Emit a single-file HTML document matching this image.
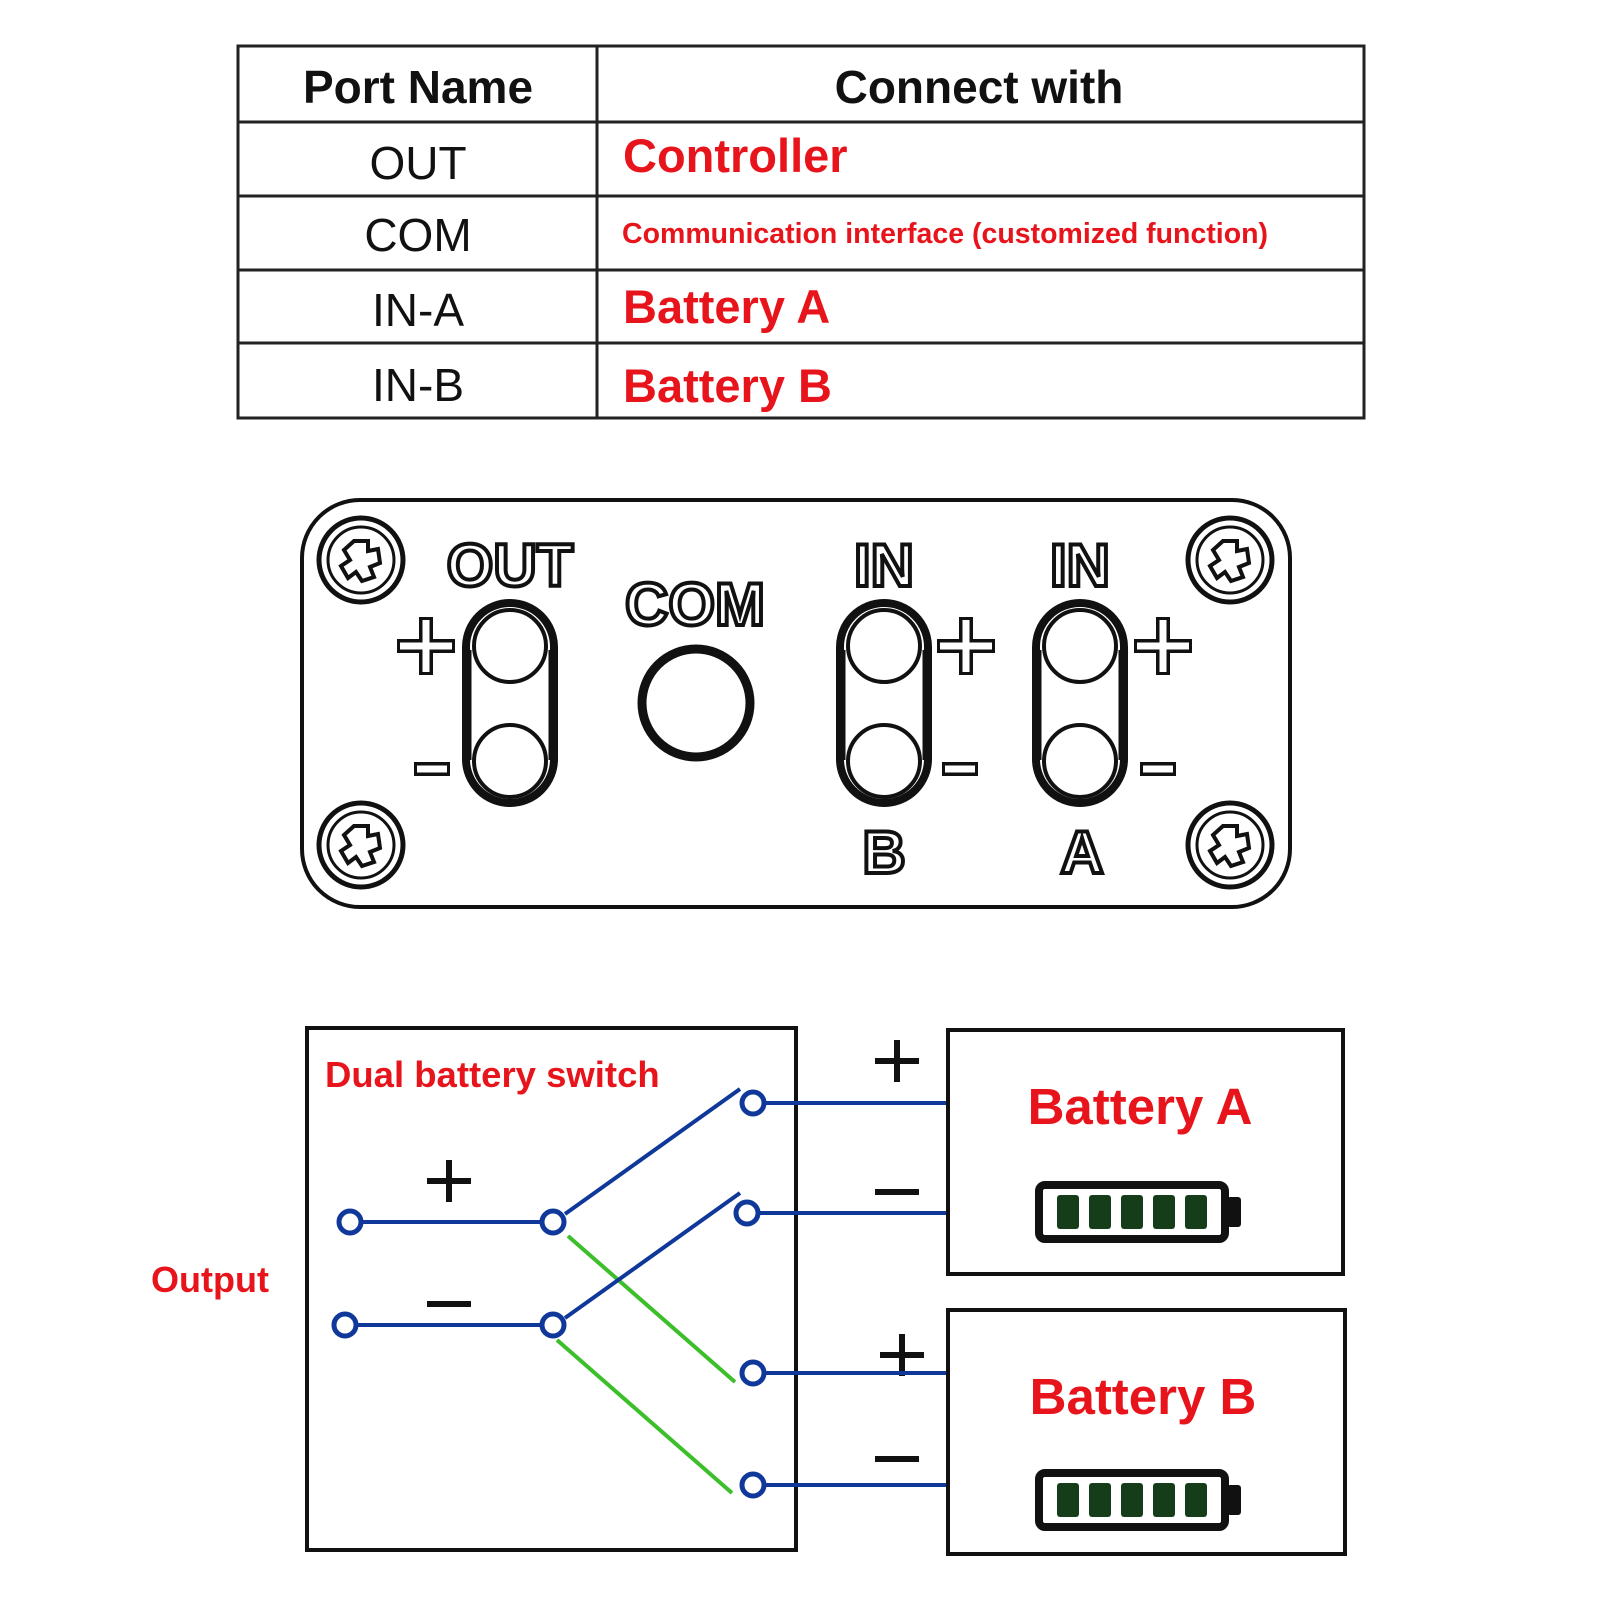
<!DOCTYPE html>
<html><head><meta charset="utf-8"><style>html,body{margin:0;padding:0;background:#fff}svg{display:block}</style></head><body>
<svg width="1601" height="1601" viewBox="0 0 1601 1601" xmlns="http://www.w3.org/2000/svg" font-family="Liberation Sans, sans-serif">
<rect width="1601" height="1601" fill="#fff"/>
<g stroke="#222" stroke-width="3" fill="none">
<rect x="238" y="46" width="1126" height="372"/>
<line x1="597" y1="46" x2="597" y2="418"/>
<line x1="238" y1="122" x2="1364" y2="122"/>
<line x1="238" y1="196" x2="1364" y2="196"/>
<line x1="238" y1="270" x2="1364" y2="270"/>
<line x1="238" y1="343" x2="1364" y2="343"/>
</g>
<g font-size="46" text-anchor="middle" fill="#111">
<text x="418" y="103" font-weight="bold">Port Name</text>
<text x="979" y="103" font-weight="bold">Connect with</text>
<text x="418" y="179">OUT</text>
<text x="418" y="251">COM</text>
<text x="418" y="326">IN-A</text>
<text x="418" y="401">IN-B</text>
</g>
<g fill="#e8141c" font-weight="bold">
<text x="623" y="172" font-size="47">Controller</text>
<text x="622" y="243" font-size="28.5">Communication interface (customized function)</text>
<text x="623" y="323" font-size="47">Battery A</text>
<text x="623" y="402" font-size="47">Battery B</text>
</g>
<rect x="302" y="500" width="988" height="407" rx="58" fill="none" stroke="#111" stroke-width="4"/>
<g fill="none" stroke="#111">
<g transform="translate(361,560)"><circle r="42" stroke-width="5"/><circle r="33" stroke-width="3"/><path d="M-7,-19 L7,-19 L7,-9 L17,-11 L19,3 L9,7 L13,17 L1,21 L-5,12 L-13,18 L-20,6 L-11,0 L-17,-10 Z" stroke-width="4"/></g>
<g transform="translate(1230,560)"><circle r="42" stroke-width="5"/><circle r="33" stroke-width="3"/><path d="M-7,-19 L7,-19 L7,-9 L17,-11 L19,3 L9,7 L13,17 L1,21 L-5,12 L-13,18 L-20,6 L-11,0 L-17,-10 Z" stroke-width="4"/></g>
<g transform="translate(361,845)"><circle r="42" stroke-width="5"/><circle r="33" stroke-width="3"/><path d="M-7,-19 L7,-19 L7,-9 L17,-11 L19,3 L9,7 L13,17 L1,21 L-5,12 L-13,18 L-20,6 L-11,0 L-17,-10 Z" stroke-width="4"/></g>
<g transform="translate(1230,845)"><circle r="42" stroke-width="5"/><circle r="33" stroke-width="3"/><path d="M-7,-19 L7,-19 L7,-9 L17,-11 L19,3 L9,7 L13,17 L1,21 L-5,12 L-13,18 L-20,6 L-11,0 L-17,-10 Z" stroke-width="4"/></g>
</g>
<g fill="none" stroke="#111">
<g transform="translate(510,0)"><rect x="-44" y="603" width="88" height="200" rx="44" stroke-width="8"/><line x1="-40" y1="650" x2="-40" y2="760" stroke-width="3"/><line x1="40" y1="650" x2="40" y2="760" stroke-width="3"/><circle cy="646" r="36" stroke-width="4"/><circle cy="761" r="36" stroke-width="4"/></g>
<g transform="translate(884,0)"><rect x="-44" y="603" width="88" height="200" rx="44" stroke-width="8"/><line x1="-40" y1="650" x2="-40" y2="760" stroke-width="3"/><line x1="40" y1="650" x2="40" y2="760" stroke-width="3"/><circle cy="646" r="36" stroke-width="4"/><circle cy="761" r="36" stroke-width="4"/></g>
<g transform="translate(1080,0)"><rect x="-44" y="603" width="88" height="200" rx="44" stroke-width="8"/><line x1="-40" y1="650" x2="-40" y2="760" stroke-width="3"/><line x1="40" y1="650" x2="40" y2="760" stroke-width="3"/><circle cy="646" r="36" stroke-width="4"/><circle cy="761" r="36" stroke-width="4"/></g>
<circle cx="696" cy="703" r="54" stroke-width="9"/>
</g>
<g fill="none">
<g stroke="#111" stroke-width="14"><path d="M397,646 H455 M426,617 V675 M937,646 H995 M966,617 V675 M1134,646 H1192 M1163,617 V675 M414,769 H450 M942,769 H978 M1140,769 H1176"/></g>
<g stroke="#fff" stroke-width="7"><path d="M400,646 H452 M426,620 V672 M940,646 H992 M966,620 V672 M1137,646 H1189 M1163,620 V672 M417,769 H447 M945,769 H975 M1143,769 H1173"/></g>
</g>
<g font-weight="bold" text-anchor="middle" fill="#fff" stroke="#111" stroke-width="4" font-size="60">
<text x="510" y="586">OUT</text>
<text x="695" y="625">COM</text>
<text x="884" y="586">IN</text>
<text x="1080" y="586">IN</text>
<text x="884" y="873">B</text>
<text x="1082" y="873">A</text>
</g>
<rect x="307" y="1028" width="489" height="522" fill="none" stroke="#111" stroke-width="4"/>
<text x="325" y="1087" font-size="36.5" font-weight="bold" fill="#e8141c">Dual battery switch</text>
<text x="151" y="1292" font-size="36" font-weight="bold" fill="#e8141c">Output</text>
<g stroke="#111" stroke-width="6"><path d="M427,1181 H471 M449,1160 V1202 M427,1304 H471 M875,1061 H919 M897,1040 V1082 M875,1192 H919 M880,1355 H924 M902,1334 V1376 M875,1459 H919"/></g>
<g stroke="#3cbf2a" stroke-width="4"><line x1="568" y1="1236" x2="735" y2="1382"/><line x1="557" y1="1340" x2="732" y2="1493"/></g>
<g stroke="#10389a" stroke-width="4" fill="#fff">
<line x1="350" y1="1222" x2="553" y2="1222"/>
<line x1="345" y1="1325" x2="553" y2="1325"/>
<line x1="565" y1="1214" x2="740" y2="1089"/>
<line x1="565" y1="1318" x2="740" y2="1193"/>
<line x1="753" y1="1103" x2="948" y2="1103"/>
<line x1="747" y1="1213" x2="948" y2="1213"/>
<line x1="753" y1="1373" x2="948" y2="1373"/>
<line x1="753" y1="1485" x2="948" y2="1485"/>
<g stroke-width="5"><circle cx="350" cy="1222" r="11"/><circle cx="553" cy="1222" r="11"/><circle cx="345" cy="1325" r="11"/><circle cx="553" cy="1325" r="11"/><circle cx="753" cy="1103" r="11"/><circle cx="747" cy="1213" r="11"/><circle cx="753" cy="1373" r="11"/><circle cx="753" cy="1485" r="11"/></g>
</g>
<rect x="948" y="1030" width="395" height="244" fill="none" stroke="#111" stroke-width="4"/>
<rect x="948" y="1310" width="397" height="244" fill="none" stroke="#111" stroke-width="4"/>
<g font-size="51" font-weight="bold" fill="#e8141c" text-anchor="middle"><text x="1140" y="1124">Battery A</text><text x="1143" y="1414">Battery B</text></g>
<g transform="translate(1035,1181)"><rect x="4" y="4" width="186" height="54" rx="6" fill="#fff" stroke="#111" stroke-width="8"/><rect x="192" y="16" width="14" height="30" rx="3" fill="#111"/><g fill="#163d1a"><rect x="22" y="14" width="22" height="34" rx="3"/><rect x="54" y="14" width="22" height="34" rx="3"/><rect x="86" y="14" width="22" height="34" rx="3"/><rect x="118" y="14" width="22" height="34" rx="3"/><rect x="150" y="14" width="22" height="34" rx="3"/></g></g>
<g transform="translate(1035,1469)"><rect x="4" y="4" width="186" height="54" rx="6" fill="#fff" stroke="#111" stroke-width="8"/><rect x="192" y="16" width="14" height="30" rx="3" fill="#111"/><g fill="#163d1a"><rect x="22" y="14" width="22" height="34" rx="3"/><rect x="54" y="14" width="22" height="34" rx="3"/><rect x="86" y="14" width="22" height="34" rx="3"/><rect x="118" y="14" width="22" height="34" rx="3"/><rect x="150" y="14" width="22" height="34" rx="3"/></g></g>
</svg>
</body></html>
